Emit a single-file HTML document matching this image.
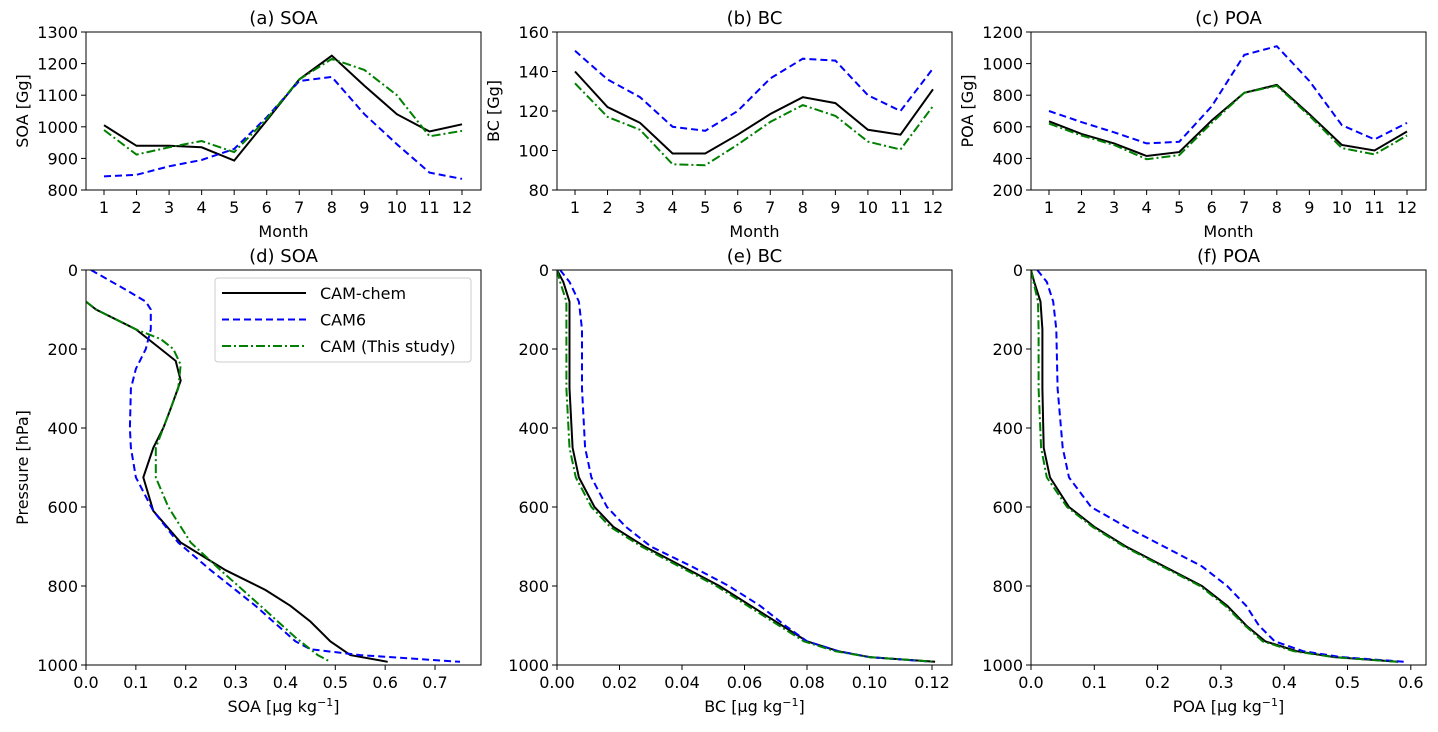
<!DOCTYPE html>
<html><head><meta charset="utf-8"><style>
body{margin:0;background:#fff}
svg{font-family:"DejaVu Sans","Liberation Sans",sans-serif}
</style></head><body>
<svg id="fig" width="1438" height="727" viewBox="0 0 1438 727" xmlns="http://www.w3.org/2000/svg"></svg>
<script>
const months=[1,2,3,4,5,6,7,8,9,10,11,12];
const soaChem=[1005,940,940,935,893,1020,1150,1225,1130,1040,985,1008];
const soaCam6=[843,848,875,895,930,1030,1145,1158,1040,945,855,835];
const soaThis=[990,912,935,955,920,1025,1150,1215,1180,1100,970,987];
const bcChem=[140,122,114,98.5,98.5,108,118.5,127,124,110.5,108,131];
const bcCam6=[150.5,136,127,112,110,120,136.5,146.5,145.5,128,120,141.5];
const bcThis=[134,117,110.5,93,92.5,103,114.5,123,117.5,104.5,100.5,122.5];
const poaChem=[635,555,495,415,440,640,815,865,680,485,450,570];
const poaCam6=[700,630,565,495,505,730,1055,1110,890,610,520,625];
const poaThis=[620,545,485,395,420,625,815,860,670,465,425,545];
const pSoaChem=[80,100,150,200,230,280,350,400,450,525,610,690,760,810,850,890,940,975,992];
const vSoaChem=[0,0.02,0.1,0.15,0.18,0.19,0.17,0.155,0.135,0.115,0.135,0.19,0.28,0.36,0.41,0.45,0.49,0.53,0.605];
const pSoaCam6=[0,50,80,100,150,200,250,300,400,450,525,610,690,760,850,940,960,975,992];
const vSoaCam6=[0.01,0.08,0.12,0.13,0.13,0.12,0.1,0.09,0.088,0.09,0.1,0.135,0.185,0.25,0.34,0.42,0.45,0.55,0.75];
const pSoaThis=[80,100,150,175,200,240,300,400,450,525,600,690,760,850,930,975,992];
const vSoaThis=[0,0.02,0.1,0.15,0.175,0.19,0.185,0.155,0.14,0.14,0.165,0.21,0.27,0.35,0.42,0.465,0.49];
const pProf=[0,30,80,150,300,450,525,600,650,700,750,800,850,900,940,965,980,992];
const vBcChem=[0,0.002,0.004,0.004,0.004,0.005,0.007,0.012,0.018,0.028,0.04,0.052,0.062,0.072,0.08,0.09,0.1,0.121];
const vBcCam6=[0.001,0.004,0.007,0.008,0.008,0.009,0.011,0.016,0.022,0.03,0.043,0.055,0.065,0.073,0.08,0.09,0.1,0.12];
const vBcThis=[0,0.001,0.003,0.003,0.003,0.004,0.006,0.011,0.017,0.027,0.039,0.051,0.061,0.071,0.079,0.089,0.1,0.121];
const vPoaChem=[0,0.005,0.015,0.018,0.018,0.02,0.03,0.06,0.1,0.15,0.21,0.27,0.31,0.34,0.37,0.42,0.48,0.58];
const vPoaCam6=[0.01,0.025,0.035,0.04,0.042,0.05,0.06,0.095,0.15,0.21,0.27,0.31,0.34,0.36,0.385,0.43,0.49,0.59];
const vPoaThis=[0,0.004,0.011,0.012,0.012,0.016,0.025,0.057,0.097,0.147,0.207,0.267,0.307,0.338,0.366,0.415,0.478,0.578];

const NS="http://www.w3.org/2000/svg";
const svg=document.getElementById('fig');
function mk(tag,attrs,parent){const e=document.createElementNS(NS,tag);for(const k in attrs)e.setAttribute(k,attrs[k]);(parent||svg).appendChild(e);return e;}
function txt(s,x,y,size,anchor,parent,rot){const t=mk('text',{x:x,y:y,'font-size':size,'text-anchor':anchor||'middle',fill:'#000'},parent);if(rot)t.setAttribute('transform','rotate(-90 '+x+' '+y+')');t.textContent=s;return t;}
const styles={chem:{stroke:'#000',dash:''},cam6:{stroke:'#0000ff',dash:'7,4'},this:{stroke:'#008000',dash:'9,3,2,3'}};

function panel(name,L,T,W,H,title,xs,ys,xticks,yticks,xlab,ylab,series,xfmt,yfmt){
  const g=mk('g',{});
  
  
  const t=txt(title,L+W/2,T-8,18,'middle',g);
  
  
  xticks.forEach(v=>{const x=xs(v);mk('line',{x1:x,x2:x,y1:T+H,y2:T+H+5,stroke:'#000'},g);txt(xfmt(v),x,T+H+23,16,'middle',g);});
  yticks.forEach(v=>{const y=ys(v);mk('line',{x1:L-5,x2:L,y1:y,y2:y,stroke:'#000'},g);txt(yfmt(v),L-8,y+6,16,'end',g);});
  const xl=txt('',L+W/2,T+H+47,16,'middle',g);xl.innerHTML=xlab;
  
  
  if(ylab){const yl=txt(ylab,L-58,T+H/2,16,'middle',g,true);
    
    }
  const cp='cp'+name;const cl=mk('clipPath',{id:cp},g);mk('rect',{x:L,y:T,width:W,height:H},cl);
  series.forEach(s=>{
    const d=s.xv.map((v,i)=>(i?'L':'M')+xs(v).toFixed(1)+','+ys(s.yv[i]).toFixed(1)).join('');
    const st=styles[s.k];
    const p=mk('path',{d:d,fill:'none',stroke:st.stroke,'stroke-width':2,'stroke-dasharray':st.dash,'clip-path':'url(#'+cp+')'},g);
    
    
  });
  mk('rect',{x:L,y:T,width:W,height:H,fill:'none',stroke:'#000','stroke-width':1},g);
}
const W=395;
function lin(d0,d1,r0,r1){return v=>r0+(v-d0)/(d1-d0)*(r1-r0);}
const mx=L=>lin(1,12,L+18,L+376);
const f0=v=>String(v);
panel('panel-a-soa',86,32,W,158,'(a) SOA',mx(86),lin(800,1300,190,32),months,[800,900,1000,1100,1200,1300],'Month','SOA [Gg]',
 [{k:'chem',xv:months,yv:soaChem},{k:'cam6',xv:months,yv:soaCam6},{k:'this',xv:months,yv:soaThis}],f0,f0);
panel('panel-b-bc',557,32,W,158,'(b) BC',mx(557),lin(80,160,190,32),months,[80,100,120,140,160],'Month','BC [Gg]',
 [{k:'chem',xv:months,yv:bcChem},{k:'cam6',xv:months,yv:bcCam6},{k:'this',xv:months,yv:bcThis}],f0,f0);
panel('panel-c-poa',1031,32,W,158,'(c) POA',mx(1031),lin(200,1200,190,32),months,[200,400,600,800,1000,1200],'Month','POA [Gg]',
 [{k:'chem',xv:months,yv:poaChem},{k:'cam6',xv:months,yv:poaCam6},{k:'this',xv:months,yv:poaThis}],f0,f0);
const py=lin(0,1000,270,665);
const pt=[0,200,400,600,800,1000];
panel('panel-d-soa',86,270,W,395,'(d) SOA',lin(0,0.1,86,135.86),py,[0,0.1,0.2,0.3,0.4,0.5,0.6,0.7],pt,'SOA [μg kg<tspan baseline-shift="super" font-size="11">−1</tspan>]','Pressure [hPa]',
 [{k:'chem',xv:vSoaChem,yv:pSoaChem},{k:'cam6',xv:vSoaCam6,yv:pSoaCam6},{k:'this',xv:vSoaThis,yv:pSoaThis}],v=>v.toFixed(1),f0);
panel('panel-e-bc',557,270,W,395,'(e) BC',lin(0,0.02,557,619.5),py,[0,0.02,0.04,0.06,0.08,0.1,0.12],pt,'BC [μg kg<tspan baseline-shift="super" font-size="11">−1</tspan>]',null,
 [{k:'chem',xv:vBcChem,yv:pProf},{k:'cam6',xv:vBcCam6,yv:pProf},{k:'this',xv:vBcThis,yv:pProf}],v=>v.toFixed(2),f0);
panel('panel-f-poa',1031,270,W,395,'(f) POA',lin(0,0.1,1031,1094.3),py,[0,0.1,0.2,0.3,0.4,0.5,0.6],pt,'POA [μg kg<tspan baseline-shift="super" font-size="11">−1</tspan>]',null,
 [{k:'chem',xv:vPoaChem,yv:pProf},{k:'cam6',xv:vPoaCam6,yv:pProf},{k:'this',xv:vPoaThis,yv:pProf}],v=>v.toFixed(1),f0);
const lg=mk('g',{});


mk('rect',{x:215,y:278,width:256,height:84,rx:3,fill:'#fff',stroke:'#ccc'},lg);
[['chem','CAM-chem'],['cam6','CAM6'],['this','CAM (This study)']].forEach((e,i)=>{
  const y=293+i*26.5;const st=styles[e[0]];
  const l=mk('line',{x1:222,x2:306,y1:y,y2:y,stroke:st.stroke,'stroke-width':2,'stroke-dasharray':st.dash},lg);
  
  
  txt(e[1],320,y+6,16,'start',lg);
});
</script>
</body></html>
